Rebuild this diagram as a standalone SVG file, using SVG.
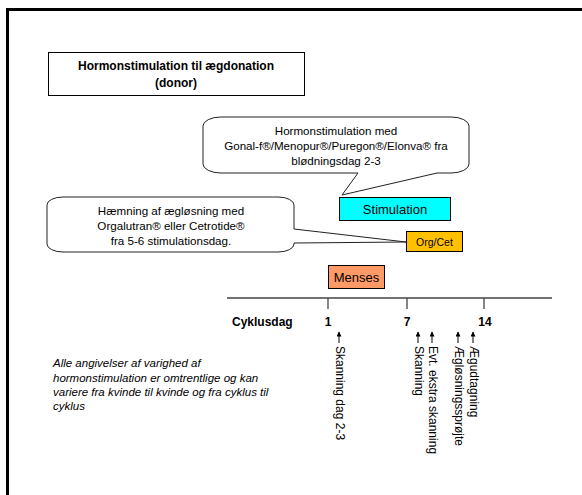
<svg xmlns="http://www.w3.org/2000/svg" width="582" height="495" viewBox="0 0 582 495">
<style>
text{font-family:"Liberation Sans",Arial,sans-serif;fill:#000}
.box{stroke:#000;stroke-width:1}
.bub{fill:#fff;stroke:#222;stroke-width:1}
.c{text-anchor:middle}
.t12{font-size:12px}
.t11{font-size:11.6px}
.b{font-weight:bold}
.axis{stroke:#444;stroke-width:1.3;fill:none}
.arr{stroke:#000;stroke-width:1;marker-end:url(#ah)}
</style>
<defs>
<marker id="ah" viewBox="0 0 10 10" refX="9" refY="5" markerWidth="6" markerHeight="5" markerUnits="userSpaceOnUse" orient="auto">
<path d="M0,0 L10,5 L0,10 Z" fill="#000"/>
</marker>
</defs>
<rect width="582" height="495" fill="#fff"/>
<rect x="7.5" y="9.5" width="600" height="600" fill="none" stroke="#000" stroke-width="3"/>

<g id="title">
<rect class="box" x="48.5" y="52.5" width="256" height="43" fill="#fff"/>
<text class="c b t12" x="176" y="70">Hormonstimulation til ægdonation</text>
<text class="c b t12" x="176" y="87">(donor)</text>
</g>

<g id="callout-stim">
<path class="bub" d="M221,117 L451,117 A18,9 0 0 1 469,126 L469,164 A18,9 0 0 1 451,173 L437,173 L342,195 L358,173 L221,173 A18,9 0 0 1 203,164 L203,126 A18,9 0 0 1 221,117 Z"/>
<text class="c t11" x="336" y="135">Hormonstimulation med</text>
<text class="c t11" x="336" y="150">Gonal-f®/Menopur®/Puregon®/Elonva® fra</text>
<text class="c t11" x="336" y="165">blødningsdag 2-3</text>
</g>

<g id="callout-org">
<path class="bub" d="M63,197 L278,197 A16,8 0 0 1 294,205 L294,229 L406,242 L294,243 L294,244 A16,8 0 0 1 278,252 L63,252 A16,8 0 0 1 47,244 L47,205 A16,8 0 0 1 63,197 Z"/>
<text class="c t11" x="171" y="215">Hæmning af ægløsning med</text>
<text class="c t11" x="171" y="230">Orgalutran® eller Cetrotide®</text>
<text class="c t11" x="171" y="245">fra 5-6 stimulationsdag.</text>
</g>

<g id="stimulation">
<rect class="box" x="339.5" y="197.5" width="111" height="23" fill="#00FFFF"/>
<text class="c" x="395" y="214" font-size="13">Stimulation</text>
</g>

<g id="orgcet">
<rect class="box" x="406.5" y="231.5" width="56" height="20" fill="#FFC000"/>
<text class="c" x="434.5" y="246" font-size="10.5">Org/Cet</text>
</g>

<g id="menses">
<rect class="box" x="328.5" y="265.5" width="56" height="23" fill="#FF9966"/>
<text class="c" x="356.5" y="282" font-size="13">Menses</text>
</g>

<g id="axis">
<line class="axis" x1="227" y1="298" x2="552" y2="298"/>
<line class="axis" x1="328" y1="298" x2="328" y2="309"/>
<line class="axis" x1="407" y1="298" x2="407" y2="309"/>
<line class="axis" x1="484" y1="298" x2="484" y2="309"/>
<text class="b t12" x="232" y="326">Cyklusdag</text>
<text class="c b t12" x="328" y="326">1</text>
<text class="c b t12" x="407" y="326">7</text>
<text class="c b t12" x="485" y="326">14</text>
</g>

<g id="connectors">
<line class="arr" x1="339" y1="343" x2="339" y2="332"/>
<line class="arr" x1="418" y1="343" x2="418" y2="332"/>
<line class="arr" x1="432" y1="343" x2="432" y2="332"/>
<line class="arr" x1="458" y1="343" x2="458" y2="332"/>
<line class="arr" x1="473" y1="343" x2="473" y2="332"/>
</g>

<g id="events">
<text class="t12" transform="translate(335.5,346) rotate(90)">Skanning dag 2-3</text>
<text class="t12" transform="translate(414.5,346) rotate(90)">Skanning</text>
<text class="t12" transform="translate(428.5,346) rotate(90)">Evt. ekstra skanning</text>
<text class="t12" transform="translate(454.5,346) rotate(90)">Ægløsningssprøjte</text>
<text class="t12" transform="translate(469.5,346) rotate(90)">Ægudtagning</text>
</g>

<g id="note" font-style="italic" font-size="11.5">
<text x="53" y="367">Alle angivelser af varighed af</text>
<text x="53" y="382">hormonstimulation er omtrentlige og kan</text>
<text x="53" y="396">variere fra kvinde til kvinde og fra cyklus til</text>
<text x="53" y="410">cyklus</text>
</g>
</svg>
